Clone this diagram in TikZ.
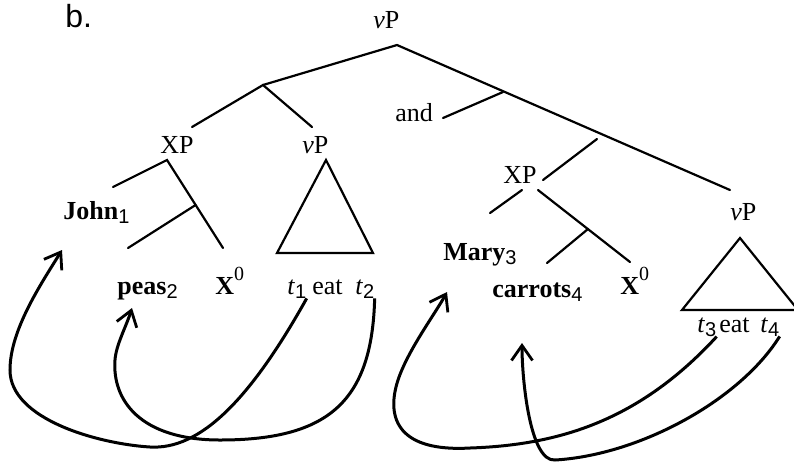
\documentclass[tikz,border=0pt]{standalone}
\usepackage{fontspec}
\setmainfont{Liberation Serif}
\newfontfamily\exfont{Liberation Sans}
\usepackage{tikz}
\usetikzlibrary{arrows.meta}
\newcommand{\idx}[1]{\raisebox{-2pt}{\exfont\fontsize{10}{12}\selectfont #1}}
\newcommand{\hi}[1]{\raisebox{7pt}{\fontsize{10}{12}\selectfont #1}}
\newcommand{\tr}[1]{\textit{t}\idx{#1}}
\tikzset{
  word/.style={inner sep=0pt, anchor=base west, font=\fontsize{13}{15}\selectfont},
  branch/.style={line width=1.1pt, line cap=round},
  tri/.style={line width=1.1pt, line join=miter},
  move/.style={-{Straight Barb[length=7.5pt,width=10.5pt,line width=1.4pt]},
    line width=1.5pt},
}

\begin{document}
\begin{tikzpicture}[x=0.5pt,y=-0.5pt]
  \useasboundingbox (0,0) rectangle (794,463);
  % labels
  \node[word, font=\exfont\fontsize{16}{18}\selectfont] (ex) at (65,27) {b.};
  \node[word] (top) at (373,28) {\textit{v}P};
  \node[word] (xpL) at (160,153) {XP};
  \node[word] (vpL) at (302,153) {\textit{v}P};
  \node[word] (john) at (63,219) {\textbf{John}\idx{1}};
  \node[word] (peas) at (117,294) {\textbf{peas}\idx{2}};
  \node[word] (xzL) at (215,294) {\textbf{X}\hi{0}};
  \node[word] (t1) at (287,294) {\tr{1}};
  \node[word] (eatL) at (312,294) {eat};
  \node[word] (t2) at (355,294) {\tr{2}};
  \node[word] (and) at (395,121) {and};
  \node[word] (xpR) at (503,183) {XP};
  \node[word] (vpR) at (730,220) {\textit{v}P};
  \node[word] (mary) at (443,260) {\textbf{Mary}\idx{3}};
  \node[word] (carr) at (492,297) {\textbf{carrots}\idx{4}};
  \node[word] (xzR) at (620,294) {\textbf{X}\hi{0}};
  \node[word] (t3) at (697,332) {\tr{3}};
  \node[word] (eatR) at (719,332) {eat};
  \node[word] (t4) at (760,332) {\tr{4}};

  % branch points
  \coordinate (r) at (397,45);
  \coordinate (cL) at (263,85);
  \coordinate (rXL) at (192,127);
  \coordinate (rVL) at (312,127);
  \coordinate (rVR) at (730,190);
  \coordinate (cA) at (503,92);
  \coordinate (rA) at (443,118);
  \coordinate (cR) at (597,139);
  \coordinate (rXR) at (543,180);
  \coordinate (xL) at (167,160);
  \coordinate (jL) at (113,187);
  \coordinate (bL) at (195.6,205);
  \coordinate (hL) at (223,248);
  \coordinate (pL) at (128,248);
  \coordinate (xR1) at (522,190);
  \coordinate (mR) at (490,213);
  \coordinate (xR2) at (538,190);
  \coordinate (bR) at (588,229);
  \coordinate (hR) at (630,262);
  \coordinate (pR) at (547,263);

  \draw[branch] (rXL) -- (cL) -- (rVL);
  \draw[branch] (cL) -- (r) -- (rVR);
  \draw[branch] (rA) -- (cA);
  \draw[branch] (cR) -- (rXR);
  \draw[branch] (jL) -- (xL) -- (hL);
  \draw[branch] (bL) -- (pL);
  \draw[branch] (mR) -- (xR1);
  \draw[branch] (xR2) -- (hR);
  \draw[branch] (bR) -- (pR);

  % triangles
  \draw[tri] (326,160) -- (277,253) -- (373,253) -- cycle;
  \draw[tri] (740,238) -- (682,310) -- (798,310) -- cycle;

  % movement
  \coordinate (jGap) at (62,250);
  \coordinate (pGap) at (132,308);
  \coordinate (mGap) at (447,292);
  \coordinate (cGap) at (522,343);
  \draw[move] (t1.south east) .. controls (250,400) and (200,450) .. (150,447)
    .. controls (100,444) and (10,420) .. (10,370)
    .. controls (10,330) and (41,284) .. (jGap);
  \draw[move] (t2.south east) .. controls (372,400) and (330,440) .. (220,440)
    .. controls (140,440) and (112,400) .. (115,360)
    .. controls (116,345) and (126,327) .. (pGap);
  \draw[move] (t3.south east) .. controls (640,420) and (560,445) .. (470,448)
    .. controls (400,452) and (385,420) .. (398,380)
    .. controls (408,350) and (435,314) .. (mGap);
  \draw[move] (t4.south east) .. controls (740,400) and (640,455) .. (555,460)
    .. controls (530,462) and (522,380) .. (cGap);
\end{tikzpicture}
\end{document}
